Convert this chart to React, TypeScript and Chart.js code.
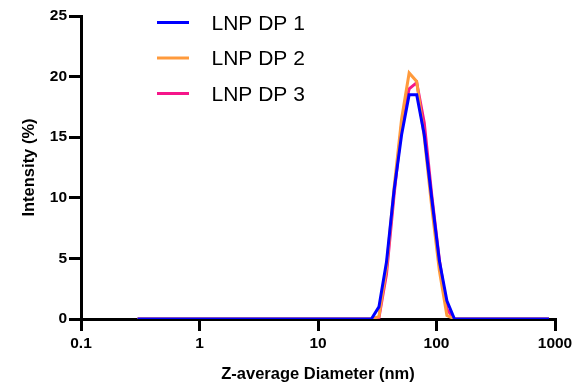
import React, { useEffect, useRef } from "react";
import { Chart, registerables } from "chart.js";

Chart.register(...registerables);

const diameters = [0.3, 28.21, 32.67, 37.84, 43.82, 50.75, 58.77, 68.06, 78.82, 91.28, 105.7, 122.4, 141.8, 890];
const dp1 = [0, 0, 1.0, 4.7, 10.6, 15.2, 18.5, 18.5, 15.2, 9.9, 4.8, 1.5, 0, 0];
const dp2 = [0, 0, 0.2, 4.2, 10.8, 16.5, 20.3, 19.6, 15.0, 9.2, 4.0, 0.3, 0, 0];
const dp3 = [0, 0, 0.1, 3.7, 10.2, 16.0, 19.0, 19.5, 16.2, 10.2, 4.9, 0.8, 0, 0];

const seriesLabels = ["LNP DP 1", "LNP DP 2", "LNP DP 3"];
const seriesColors = ["#0000FF", "#FF9A3C", "#F5168A"];

const xTickValues = [0.1, 1, 10, 100, 1000];
const xTickLabels = ["0.1", "1", "10", "100", "1000"];
const yTickValues = [0, 5, 10, 15, 20, 25];

const FONT = "'Liberation Sans', Arial, Helvetica, sans-serif";

const legendPlugin = {
  id: "insideLegend",
  afterDraw(chart: any) {
    const ctx = chart.ctx;
    ctx.save();
    chart.data.datasets.forEach((ds: any, i: number) => {
      const y = 22.5 + i * 35.5;
      ctx.strokeStyle = ds.borderColor;
      ctx.lineWidth = 3;
      ctx.beginPath();
      ctx.moveTo(157, y);
      ctx.lineTo(189, y);
      ctx.stroke();
      ctx.fillStyle = "#000";
      ctx.font = `21px ${FONT}`;
      ctx.textBaseline = "middle";
      ctx.textAlign = "left";
      ctx.fillText(ds.label, 211.5, y + 1.5);
    });
    ctx.restore();
  },
};

export default function App() {
  const ref = useRef<HTMLCanvasElement | null>(null);

  useEffect(() => {
    if (!ref.current) return;
    const mk = (vals: number[]) => diameters.map((x, i) => ({ x, y: vals[i] }));
    const chart = new Chart(ref.current, {
      type: "line",
      data: {
        datasets: [dp1, dp2, dp3].map((vals, i) => ({
          label: seriesLabels[i],
          data: mk(vals),
          borderColor: seriesColors[i],
          backgroundColor: seriesColors[i],
          borderWidth: 3,
          pointRadius: 0,
          tension: 0,
          fill: false,
        })),
      },
      options: {
        responsive: false,
        animation: false,
        layout: { padding: { left: 0, top: 16, right: 22, bottom: 0 } },
        plugins: { legend: { display: false }, tooltip: { enabled: false } },
        scales: {
          x: {
            type: "logarithmic",
            min: 0.1,
            max: 1000,
            afterBuildTicks: (scale: any) => {
              scale.ticks = xTickValues.map((v) => ({ value: v }));
            },
            afterFit: (scale: any) => {
              scale.height = 65;
            },
            ticks: {
              color: "#000",
              font: { family: FONT, size: 15.5, weight: "bold" },
              padding: 3,
              maxRotation: 0,
              autoSkip: false,
              callback: (v: any) => {
                const idx = xTickValues.indexOf(Number(v));
                return idx >= 0 ? xTickLabels[idx] : "";
              },
            },
            grid: { drawOnChartArea: false, drawTicks: true, tickLength: 12, lineWidth: 3, color: "#000" },
            border: { display: true, width: 3, color: "#000" },
            title: {
              display: true,
              text: "Z-average Diameter (nm)",
              color: "#000",
              font: { family: FONT, size: 16.5, weight: "bold" },
              padding: { top: 0, bottom: 0 },
            },
          },
          y: {
            min: 0,
            max: 25,
            afterBuildTicks: (scale: any) => {
              scale.ticks = yTickValues.map((v) => ({ value: v }));
            },
            afterFit: (scale: any) => {
              scale.width = 81;
            },
            ticks: {
              color: "#000",
              font: { family: FONT, size: 15.5, weight: "bold" },
              padding: 2,
            },
            grid: { drawOnChartArea: false, drawTicks: true, tickLength: 12, lineWidth: 3, color: "#000" },
            border: { display: true, width: 3, color: "#000" },
            title: {
              display: true,
              text: "Intensity (%)",
              color: "#000",
              font: { family: FONT, size: 16.5, weight: "bold" },
              padding: { top: 20, bottom: 0 },
            },
          },
        },
      },
      plugins: [legendPlugin],
    } as any);
    return () => chart.destroy();
  }, []);

  return (
    <div style={{ position: "absolute", left: 0, top: 0, width: 577, height: 384, background: "#fff" }}>
      <canvas ref={ref} width={577} height={384} />
    </div>
  );
}
